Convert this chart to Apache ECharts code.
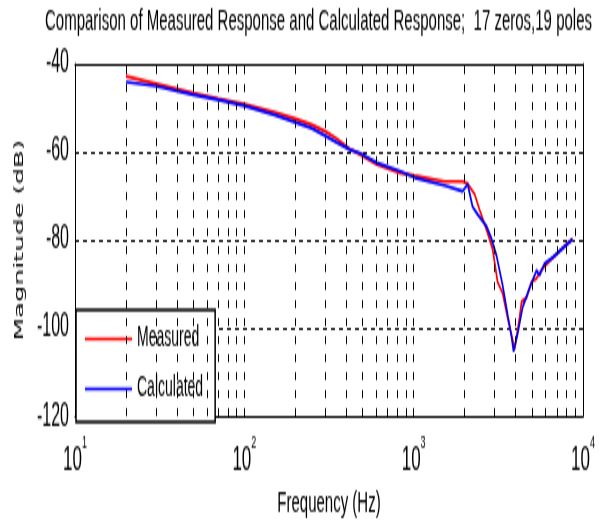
<!DOCTYPE html>
<html>
<head>
<meta charset="utf-8">
<script src="https://cdn.jsdelivr.net/npm/echarts@6/dist/echarts.min.js"></script>
<style>
  html, body { margin: 0; padding: 0; background: #fff; }
  #wrap { width: 615px; height: 528px; overflow: hidden; background: #fff; }
  #c { width: 615px; height: 264px; transform: scaleY(2); transform-origin: 0 0; }
</style>
</head>
<body>
<div id="wrap"><div id="c"></div></div>
<script>
// ---- data ----
const titleText = 'Comparison of Measured Response and Calculated Response;  17 zeros,19 poles';
const seriesNames = ['Measured', 'Calculated'];

const measuredFreq = [20, 30, 50, 70, 100, 150, 200, 250, 300, 350, 420, 480, 605, 826, 1014, 1524, 1946, 2084, 2291, 2450, 2735, 2925, 3131, 3350, 3586, 3946, 4221, 4337, 4642, 4966, 5318, 5391, 5768, 6345, 7998, 8674];
const measuredDb   = [-42.8, -44.5, -46.6, -47.9, -49.1, -50.9, -52.4, -53.8, -55.3, -56.9, -59.3, -60.5, -62.8, -64.7, -65.4, -66.7, -66.7, -67.2, -69.6, -73.1, -78.4, -82.0, -89.5, -92.0, -97.6, -104.7, -97.6, -94.0, -93.1, -89.5, -88.7, -89.5, -86.4, -84.7, -80.9, -79.8];

const calculatedFreq = [20, 30, 50, 70, 100, 150, 200, 250, 300, 350, 420, 480, 605, 826, 1014, 1524, 1946, 2084, 2228, 2388, 2697, 2887, 3088, 3350, 3586, 3788, 3893, 4110, 4397, 4834, 5318, 5537, 5929, 6608, 8674];
const calculatedDb   = [-44.1, -45.0, -47.0, -48.1, -49.5, -51.5, -53.2, -54.6, -56.3, -57.8, -59.5, -60.2, -62.4, -64.3, -65.8, -67.6, -68.9, -67.3, -72.4, -74.2, -76.9, -79.8, -83.6, -90.2, -96.9, -102.0, -105.3, -101.3, -95.3, -90.9, -86.9, -88.0, -85.3, -84.0, -79.8];

const gridFreqs = [20, 30, 40, 50, 60, 70, 80, 90, 100, 200, 300, 400, 500, 600, 700, 800, 900, 1000, 2000, 3000, 4000, 5000, 6000, 7000, 8000, 9000];
const xRange = [10, 10000];
const yRange = [-120, -40];
const yStep = 20;
const xTickExponents = { 10: '1', 100: '2', 1000: '3', 10000: '4' };

// ---- chart ----
const zip = (xs, ys) => xs.map((x, i) => [x, ys[i]]);
const FONT = "'Liberation Sans', Arial, sans-serif";

const chart = echarts.init(document.getElementById('c'), null, { renderer: 'canvas', width: 615, height: 264 });

chart.setOption({
  animation: false,
  backgroundColor: '#fff',
  title: {
    text: titleText,
    left: 45, top: 3, padding: 0,
    textStyle: { fontFamily: FONT, fontSize: 15, fontWeight: 'normal', color: '#000' }
  },
  grid: { left: 75, right: 32, top: 32, bottom: 52 },
  legend: {
    data: seriesNames,
    orient: 'vertical',
    left: 76, top: 155,
    padding: [7.5, 12, 9.5, 9],
    itemGap: 11,
    icon: 'rect',
    itemWidth: 47, itemHeight: 1.5,
    backgroundColor: '#fff',
    borderColor: '#000', borderWidth: 1.5,
    textStyle: { fontFamily: FONT, fontSize: 14, lineHeight: 14, color: '#000' }
  },
  xAxis: [{
    type: 'log', logBase: 10, min: xRange[0], max: xRange[1],
    axisLine: { show: true, onZero: false, lineStyle: { color: '#000', width: 1 } },
    axisTick: { show: true, inside: true, length: 3, lineStyle: { color: '#000' } },
    splitLine: { show: false },
    axisLabel: {
      margin: 9,
      formatter: v => '{b|10}{s|' + (xTickExponents[Math.round(v)] || '') + '}',
      rich: {
        b: { fontFamily: FONT, fontSize: 17, lineHeight: 22, color: '#000', verticalAlign: 'bottom' },
        s: { fontFamily: FONT, fontSize: 9, lineHeight: 10, color: '#000', verticalAlign: 'top' }
      }
    },
    name: 'Frequency (Hz)', nameLocation: 'middle', nameGap: 33,
    nameTextStyle: { fontFamily: FONT, fontSize: 15, color: '#000' }
  }, {
    type: 'log', logBase: 10, min: xRange[0], max: xRange[1], position: 'top',
    axisLine: { show: true, onZero: false, lineStyle: { color: '#000', width: 1 } },
    axisTick: { show: false }, axisLabel: { show: false }, splitLine: { show: false }
  }],
  yAxis: [{
    type: 'value', min: yRange[0], max: yRange[1], interval: yStep,
    axisLine: { show: true, onZero: false, lineStyle: { color: '#000', width: 1 } },
    axisTick: { show: true, inside: true, length: 4, lineStyle: { color: '#000' } },
    axisLabel: { margin: 6, fontFamily: FONT, fontSize: 16, color: '#000' },
    splitLine: { show: true, lineStyle: { color: '#000', width: 1, type: [4, 4] } },
    name: 'Magnitude (dB)', nameLocation: 'middle', nameRotate: 90, nameGap: 46,
    nameTextStyle: { fontFamily: "'DejaVu Sans', sans-serif", fontSize: 13, color: '#000' }
  }, {
    type: 'value', min: yRange[0], max: yRange[1], interval: yStep, position: 'right',
    axisLine: { show: true, onZero: false, lineStyle: { color: '#000', width: 1 } },
    axisTick: { show: true, inside: true, length: 4, lineStyle: { color: '#000' } },
    axisLabel: { show: false }, splitLine: { show: false }
  }],
  series: [{
    name: seriesNames[0], type: 'line', xAxisIndex: 0, yAxisIndex: 0,
    data: zip(measuredFreq, measuredDb),
    symbol: 'none', smooth: false,
    lineStyle: { color: '#ff0000', width: 1.7 },
    itemStyle: { color: '#ff0000' },
    markLine: {
      silent: true, symbol: ['none', 'none'], label: { show: false },
      lineStyle: { color: '#000', width: 1, type: [4, 5] },
      emphasis: { disabled: true },
      data: gridFreqs.map(f => ({ xAxis: f }))
    },
    z: 3
  }, {
    name: seriesNames[1], type: 'line', xAxisIndex: 0, yAxisIndex: 0,
    data: zip(calculatedFreq, calculatedDb),
    symbol: 'none', smooth: false,
    lineStyle: { color: '#0000ff', width: 1.7 },
    itemStyle: { color: '#0000ff' },
    z: 4
  }]
});
</script>
</body>
</html>
